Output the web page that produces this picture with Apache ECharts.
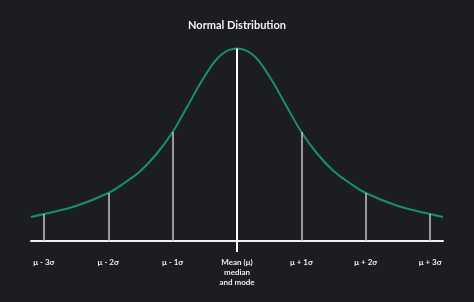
<!DOCTYPE html>
<html>
<head>
<meta charset="utf-8">
<script src="https://cdn.jsdelivr.net/npm/echarts@6/dist/echarts.min.js"></script>
<style>
  html, body { margin: 0; padding: 0; background: #1c1d21; }
  #chart-container { width: 474px; height: 302px; }
</style>
</head>
<body>
<div id="chart-container"></div>
<script>
// curve, x in sigma units from the mean, y as height above the axis
const curveX = [-3.2, -3, -2.5, -2, -1.75, -1.5, -1.25, -1, -0.75, -0.5, -0.25, 0, 0.25, 0.5, 0.75, 1, 1.25, 1.5, 1.75, 2, 2.5, 3, 3.2];
const curveY = [24, 27, 35, 48, 58, 70, 87, 109, 137, 165, 186, 192.5, 186, 165, 137, 109, 87, 70, 58, 48, 35, 27, 24];

// vertical markers
const markerX = [-3, -2, -1, 0, 1, 2, 3];
const markerY = [27, 48, 109, 192.5, 109, 48, 27];
const markerLabels = ['μ - 3σ', 'μ - 2σ', 'μ - 1σ', 'Mean (μ)\nmedian\nand mode', 'μ + 1σ', 'μ + 2σ', 'μ + 3σ'];

const chart = echarts.init(document.getElementById('chart-container'), null, { renderer: 'canvas' });

const curveData = curveX.map((x, i) => [x, curveY[i]]);
const markLines = markerX.map((x, i) => [
  { coord: [x, 0], lineStyle: x === 0 ? { color: '#ffffff', width: 2, type: 'solid' } : { color: '#c4c4c4', width: 1.5, type: 'solid' } },
  { coord: [x, markerY[i]] }
]);

const option = {
  backgroundColor: '#1c1d21',
  animation: false,
  title: {
    text: 'Normal Distribution',
    left: 'center',
    top: 15,
    textStyle: { color: '#f2f2f2', fontSize: 11, fontWeight: 'bold', fontFamily: 'Lato' }
  },
  grid: { left: 31, right: 31, top: 41, bottom: 61 },
  xAxis: {
    type: 'value',
    min: -3.2,
    max: 3.2,
    splitLine: { show: false },
    axisLine: { show: true, onZero: false, lineStyle: { color: '#f0f0f0', width: 2 } },
    axisTick: { show: true, customValues: [0], length: 11, lineStyle: { color: '#ffffff', width: 2 } },
    axisLabel: {
      show: true,
      customValues: markerX,
      margin: 16,
      color: '#ececec',
      fontSize: 8,
      fontWeight: 'bold',
      fontFamily: 'Lato',
      lineHeight: 10,
      formatter: (v) => markerLabels[markerX.indexOf(v)]
    }
  },
  yAxis: {
    type: 'value',
    min: 0,
    max: 200,
    show: false
  },
  series: [
    {
      type: 'line',
      data: curveData,
      smooth: 0.4,
      symbol: 'none',
      lineStyle: { color: '#17906d', width: 2 },
      z: 3,
      markLine: {
        silent: true,
        symbol: 'none',
        label: { show: false },
        data: markLines
      }
    }
  ]
};

chart.setOption(option);
</script>
</body>
</html>
